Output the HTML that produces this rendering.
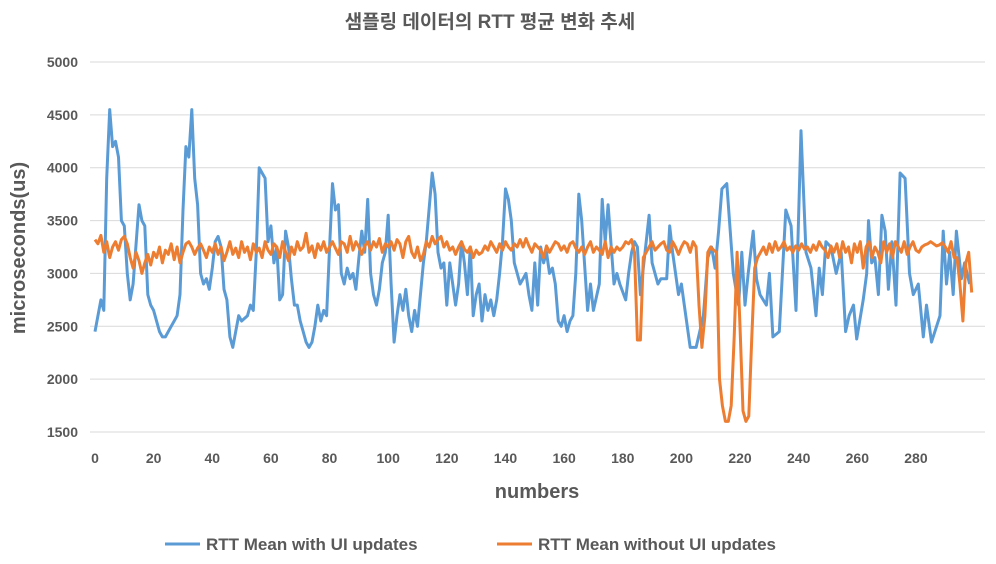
<!DOCTYPE html>
<html><head><meta charset="utf-8">
<style>
html,body{margin:0;padding:0;background:#fff;}
svg text{font-family:"Liberation Sans","Noto Sans CJK KR",sans-serif;fill:#595959;}
</style></head>
<body>
<svg id="chart" width="996" height="559" viewBox="0 0 996 559" xmlns="http://www.w3.org/2000/svg">
<text x="490" y="28" text-anchor="middle" font-size="19" font-weight="bold">샘플링 데이터의 RTT 평균 변화 추세</text>
<g id="grid"></g>
<g id="yticks"></g>
<g id="xticks"></g>
<g id="series"></g>
<text x="537" y="498" text-anchor="middle" font-size="20" font-weight="bold">numbers</text>
<text transform="translate(25,248) rotate(-90)" text-anchor="middle" font-size="20" font-weight="bold">microseconds(us)</text>
<g>
  <g>
    <line x1="165" y1="544" x2="200" y2="544" stroke="#5b9bd5" stroke-width="3"/>
    <text x="206" y="550" font-size="17" font-weight="bold">RTT Mean with UI updates</text>
  </g>
  <g>
    <line x1="497" y1="544" x2="532" y2="544" stroke="#ed7d31" stroke-width="3"/>
    <text x="538" y="550" font-size="17" font-weight="bold">RTT Mean without UI updates</text>
  </g>
</g>
</svg>
<script>
const yTicks = [1500,2000,2500,3000,3500,4000,4500,5000];
const xTicks = [0,20,40,60,80,100,120,140,160,180,200,220,240,260,280];
const blueX = [0,2,3,4,5,6,7,8,9,10,11,12,13,15,16,17,18,19,20,22,23,24,26,27,28,29,30,31,32,33,34,35,36,37,38,39,40,41,42,43,44,45,46,47,48,49,50,52,53,54,55,56,57,58,59,60,61,62,63,64,65,66,67,68,69,70,71,72,73,74,75,76,77,78,79,80,81,82,83,84,85,86,87,88,89,90,91,92,93,94,95,96,97,98,99,100,101,102,103,104,105,106,107,108,109,110,112,113,115,116,117,118,119,120,121,122,123,124,125,126,127,128,129,130,131,132,133,134,135,136,137,138,139,140,141,142,143,144,145,146,147,148,149,150,151,152,153,154,155,156,157,158,159,160,161,162,163,164,165,166,168,169,170,172,173,174,175,177,178,179,181,182,183,184,185,186,187,189,190,192,193,195,196,197,199,200,201,203,205,207.5,209,210.3,211.5,212.7,213.8,215.5,217.7,219.5,220.6,221.7,222.8,224.5,225.6,226.8,229,230,231.2,233.4,235.6,237.4,239.1,240.8,242.5,244.2,245.9,247,248.1,249.3,251,252.8,254.5,256,257.2,258.7,259.8,262,263.2,263.8,264.9,266,267.2,268.4,269.5,270.6,271.8,273.2,274.6,276.3,277.8,279.1,280.8,282.5,283.6,285.3,288.2,289.3,290.4,291.5,292.7,293.8,295.5,296.6,298.3,299];
const blueY = [2450,2750,2650,3900,4550,4200,4250,4100,3500,3450,3000,2750,2900,3650,3500,3450,2800,2700,2650,2450,2400,2400,2500,2550,2600,2800,3600,4200,4100,4550,3900,3650,3000,2900,2950,2850,3050,3300,3350,3250,2850,2750,2400,2300,2450,2600,2550,2600,2700,2650,3200,4000,3950,3900,3300,3450,3100,3250,2750,2800,3400,3250,2950,2700,2700,2550,2450,2350,2300,2350,2500,2700,2550,2650,2600,3250,3850,3600,3650,3000,2900,3050,2950,3000,2850,3150,3400,3200,3700,3000,2800,2700,2850,3100,3200,3550,2900,2350,2600,2800,2650,2850,2600,2450,2650,2500,3100,3300,3950,3750,3200,3050,3100,2700,3100,2900,2700,2900,3300,3100,2800,3250,2600,2800,2900,2550,2800,2650,2750,2600,2750,3000,3300,3800,3700,3500,3100,3000,2900,2950,3000,2800,2650,3100,2700,3250,3100,3200,3000,3050,2900,2550,2500,2600,2450,2550,2600,3000,3750,3500,2650,2900,2650,2900,3700,3300,3650,2900,3000,2900,2750,3000,3200,3300,3250,2800,3050,3550,3100,2900,2950,2950,3450,3200,2800,2900,2700,2300,2300,2600,3150,3250,3050,3400,3800,3850,3000,2700,3200,2700,3000,3400,2950,2800,2700,3000,2400,2450,3600,3450,2650,4350,3200,3050,2600,3050,2800,3300,3250,3000,3200,2450,2600,2700,2380,2750,3000,3500,3100,3150,2800,3550,3400,2850,3300,2700,3950,3900,3000,2800,2900,2400,2700,2350,2600,3400,2900,3200,2800,3400,2950,3100,2900];
const orangeY = [3320,3280,3360,3200,3300,3150,3250,3300,3220,3320,3350,3280,3150,3050,3200,3120,3000,3100,3180,3080,
3200,3150,3250,3100,3220,3180,3280,3130,3250,3100,3200,3280,3300,3250,3180,3240,3280,3220,3150,3250,
3200,3280,3180,3250,3120,3200,3300,3180,3240,3150,3300,3200,3250,3130,3280,3200,3240,3150,3300,3220,
3180,3280,3250,3150,3300,3200,3120,3250,3180,3300,3220,3250,3380,3200,3260,3150,3280,3220,3300,3200,
3250,3300,3240,3180,3300,3280,3200,3350,3220,3300,3250,3180,3260,3300,3220,3300,3250,3330,3200,3280,
3250,3300,3220,3320,3280,3150,3300,3350,3200,3150,3250,3120,3180,3300,3250,3350,3280,3320,3350,3250,
3300,3220,3250,3180,3250,3300,3230,3200,3250,3150,3220,3180,3200,3260,3220,3300,3250,3200,3280,3220,
3300,3250,3220,3280,3250,3320,3250,3330,3260,3200,3280,3250,3220,3150,3260,3200,3250,3300,3280,3220,
3260,3200,3280,3300,3240,3200,3250,3180,3250,3300,3200,3250,3220,3180,3300,3150,3250,3200,3250,3220,
3250,3300,3280,3320,3200,2370,2370,3150,3200,3250,3300,3220,3250,3280,3300,3220,3200,3300,3250,3180,
3250,3300,3280,3200,3300,3250,2700,2300,2600,3200,3250,3220,3200,2000,1750,1600,1600,1750,2400,3200,
2500,1700,1600,1650,2400,3050,3150,3200,3250,3180,3280,3200,3300,3220,3250,3300,3220,3250,3200,3260,
3220,3280,3230,3250,3200,3270,3220,3300,3250,3220,3150,3260,3200,3280,3150,3300,3200,3250,3100,3280,
3200,3300,3050,3250,3300,3150,3250,3200,3100,3300,3200,3280,3150,3300,3250,3200,3300,3180,3250,3300,
3220,3200,3250,3270,3280,3300,3280,3260,3270,3290,3250,3200,3300,3150,3150,2900,2550,3100,3200,2820];

const NS = "http://www.w3.org/2000/svg";
const X0 = 95, XPX = 2.932, YTOP = 62, YBOT = 432, VMIN = 1500, VMAX = 5000;
function xs(n){ return X0 + n * XPX; }
function ys(v){ return YBOT - (v - VMIN) / (VMAX - VMIN) * (YBOT - YTOP); }

const grid = document.getElementById('grid');
const yg = document.getElementById('yticks');
yTicks.forEach(v => {
  const l = document.createElementNS(NS, 'line');
  
  
  l.setAttribute('x1', 90); l.setAttribute('x2', 985);
  l.setAttribute('y1', ys(v)); l.setAttribute('y2', ys(v));
  l.setAttribute('stroke', '#d9d9d9'); l.setAttribute('stroke-width', '1');
  grid.appendChild(l);
  const t = document.createElementNS(NS, 'text');
  
  
  t.setAttribute('x', 78); t.setAttribute('y', ys(v) + 5);
  t.setAttribute('text-anchor', 'end'); t.setAttribute('font-size', '14'); t.setAttribute('font-weight', 'bold');
  t.textContent = v;
  yg.appendChild(t);
});
const xg = document.getElementById('xticks');
xTicks.forEach(n => {
  const t = document.createElementNS(NS, 'text');
  
  
  t.setAttribute('x', xs(n)); t.setAttribute('y', 463);
  t.setAttribute('text-anchor', 'middle'); t.setAttribute('font-size', '14'); t.setAttribute('font-weight', 'bold');
  t.textContent = n;
  xg.appendChild(t);
});
const sg = document.getElementById('series');
function addLine(pts, color, name){
  const p = document.createElementNS(NS, 'polyline');
  
  
  p.setAttribute('points', pts.map(q => xs(q[0]).toFixed(1) + ',' + ys(q[1]).toFixed(1)).join(' '));
  p.setAttribute('fill', 'none'); p.setAttribute('stroke', color);
  p.setAttribute('stroke-width', '3'); p.setAttribute('stroke-linejoin', 'round');
  sg.appendChild(p);
}
addLine(blueX.map((n, i) => [n, blueY[i]]), '#5b9bd5', 'series-with-ui-updates');
addLine(orangeY.map((v, i) => [i, v]), '#ed7d31', 'series-without-ui-updates');
</script>
</body></html>
